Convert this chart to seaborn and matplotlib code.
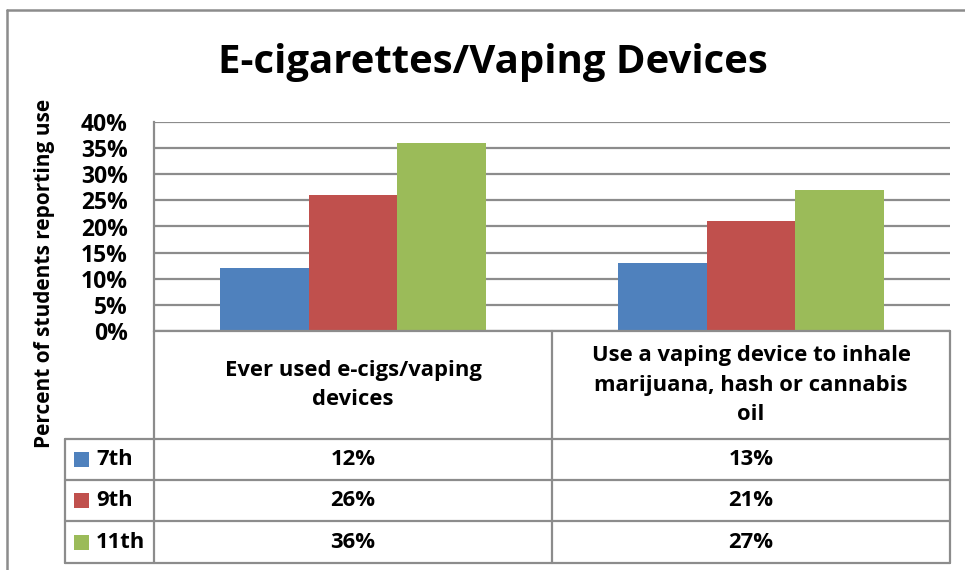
import matplotlib
matplotlib.use("Agg")
import matplotlib.pyplot as plt
from matplotlib.lines import Line2D
from matplotlib.patches import Rectangle
from matplotlib.ticker import MultipleLocator, FuncFormatter
import seaborn as sns
import pandas as pd

# Data
categories = ["Ever used e-cigs/vaping\ndevices",
              "Use a vaping device to inhale\nmarijuana, hash or cannabis\noil"]
grades = ["7th", "9th", "11th"]
values_7th = [12, 13]
values_9th = [26, 21]
values_11th = [36, 27]
colors = ["#4F81BD", "#C0504D", "#9BBB59"]

series = {"7th": values_7th, "9th": values_9th, "11th": values_11th}
rows = []
for g in grades:
    for c, v in zip(categories, series[g]):
        rows.append({"category": c, "grade": g, "value": v})
df = pd.DataFrame(rows)

sns.set_theme(style="white")
FONT = ["Open Sans", "DejaVu Sans"]
plt.rcParams["font.family"] = FONT
plt.rcParams["font.weight"] = "bold"

W, H = 965, 570
fig = plt.figure(figsize=(W / 100, H / 100), dpi=100)
fig.patch.set_facecolor("white")


def fx(x):
    return x / W


def fy(y):
    return 1 - y / H


GRID = "#8C8C8C"
TXT = 15.8

# Plot area in pixel coordinates
px0, px1, py_top, py_bot = 154, 950, 122, 331
ax = fig.add_axes([fx(px0), fy(py_bot), fx(px1) - fx(px0), (py_bot - py_top) / H])

sns.barplot(data=df, x="category", y="value", hue="grade", order=categories,
            hue_order=grades, palette=colors, width=0.67, saturation=1,
            edgecolor="none", linewidth=0, ax=ax, legend=False)

ax.set_ylim(0, 40)
ax.set_xlim(-0.5, 1.5)
ax.yaxis.set_major_locator(MultipleLocator(5))
ax.yaxis.set_major_formatter(FuncFormatter(lambda v, p: f"{int(v)}%"))
ax.grid(axis="y", color=GRID, linewidth=1.6)
ax.set_axisbelow(True)
ax.set_xticks([])
ax.set_xlabel("")
ax.set_ylabel("")
for s in ["top", "right", "bottom"]:
    ax.spines[s].set_visible(False)
ax.spines["left"].set_color(GRID)
ax.spines["left"].set_linewidth(1.6)
ax.tick_params(axis="y", length=0, pad=19, labelsize=16.5)
for lbl in ax.get_yticklabels():
    lbl.set_fontweight("bold")
    lbl.set_color("black")

# Title and axis label
fig.text(fx(493), fy(62), "E-cigarettes/Vaping Devices", ha="center", va="center",
         fontsize=28.9, fontweight="bold", color="black")
fig.text(fx(45), fy(273), "Percent of students reporting use", rotation=90,
         ha="center", va="center", fontsize=15, fontweight="bold", color="black")


def hline(x0, x1, y, lw=1.6):
    fig.add_artist(Line2D([fx(x0), fx(x1)], [fy(y), fy(y)], color=GRID, lw=lw))


def vline(x, y0, y1, lw=1.6):
    fig.add_artist(Line2D([fx(x), fx(x)], [fy(y0), fy(y1)], color=GRID, lw=lw))


# Outer chart border
hline(7, W, 10, lw=1.8)
vline(7, 10, H, lw=1.8)

# Data table
col_x = [65, 154, 552, 950]
row_y = [331, 439, 480, 521, 563]
hline(col_x[1], col_x[3], row_y[0])
for y in row_y[1:]:
    hline(col_x[0], col_x[3], y)
vline(col_x[0], row_y[1], row_y[4])
vline(col_x[1], row_y[0], row_y[4])
vline(col_x[2], row_y[0], row_y[4])
vline(col_x[3], row_y[0], row_y[4])

# Header cells
for i, c in enumerate(categories):
    cx = (col_x[i + 1] + col_x[i + 2]) / 2
    fig.text(fx(cx), fy((row_y[0] + row_y[1]) / 2), c, ha="center", va="center",
             fontsize=TXT, fontweight="bold", color="black", linespacing=1.52)

# Value rows with legend keys
for r, g in enumerate(grades):
    yc = (row_y[r + 1] + row_y[r + 2]) / 2
    fig.add_artist(Rectangle((fx(74), fy(yc + 7.5)), 15 / W, 15 / H,
                             facecolor=colors[r], edgecolor="none"))
    fig.text(fx(96), fy(yc), g, ha="left", va="center", fontsize=TXT,
             fontweight="bold", color="black")
    for i, v in enumerate(series[g]):
        cx = (col_x[i + 1] + col_x[i + 2]) / 2
        fig.text(fx(cx), fy(yc), f"{v}%", ha="center", va="center", fontsize=TXT,
                 fontweight="bold", color="black")

fig.savefig("out.png", dpi=100, facecolor="white")
